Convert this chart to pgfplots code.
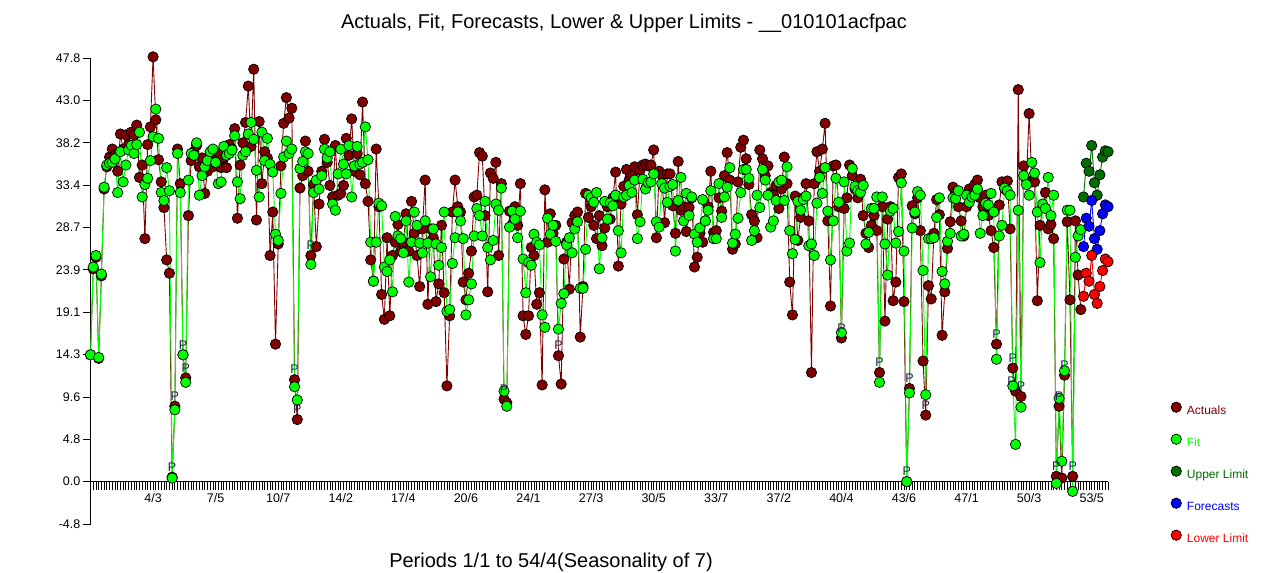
\documentclass[border=0pt]{standalone}
\usepackage{pgfplots}
\pgfplotsset{compat=1.18}
\usepackage{pgfplotstable}
\usepackage{fontspec}
\setmainfont{Liberation Sans}
\definecolor{actc}{RGB}{128,0,0}
\definecolor{fitc}{RGB}{0,255,0}
\definecolor{upc}{RGB}{0,110,0}
\definecolor{fcc}{RGB}{0,0,255}
\definecolor{loc}{RGB}{255,0,0}
\definecolor{pc}{RGB}{30,30,90}

\pgfplotstableread{
idx A F
1 14.3 14.3
2 24.0 24.2
3 25.3 25.5
4 13.9 14.0
5 23.2 23.4
6 33.0 33.2
7 35.5 35.7
8 36.6 35.9
9 37.5 36.0
10 36.8 36.4
11 35.0 32.6
12 39.2 37.2
13 37.5 33.8
14 39.1 35.7
15 38.0 37.4
16 39.4 37.9
17 39.1 37.0
18 40.2 38.0
19 34.3 39.4
20 35.7 32.1
21 27.4 33.5
22 38.0 34.2
23 40.0 36.2
24 47.9 38.9
25 40.8 42.0
26 36.3 38.7
27 33.8 32.6
28 30.9 31.7
29 25.0 35.4
30 23.5 32.8
31 0.5 0.4
32 8.5 8.1
33 37.5 37.0
34 33.6 32.6
35 14.3 14.3
36 11.7 11.2
37 30.0 34.0
38 36.2 37.0
39 37.2 36.8
40 37.9 38.2
41 35.5 32.3
42 36.5 34.5
43 32.5 35.5
44 35.0 36.2
45 36.0 37.2
46 35.5 37.5
47 36.5 36.0
48 37.0 33.6
49 35.4 33.8
50 36.5 37.8
51 35.4 36.8
52 38.0 37.0
53 37.5 37.4
54 39.8 39.0
55 29.7 33.8
56 35.7 31.9
57 38.2 36.8
58 40.5 37.2
59 44.6 39.2
60 37.8 40.5
61 46.5 38.6
62 29.5 35.1
63 40.6 32.1
64 33.6 39.4
65 37.2 36.2
66 36.5 38.7
67 25.5 35.8
68 30.4 34.9
69 15.5 27.9
70 26.8 27.2
71 35.6 32.5
72 40.4 36.6
73 43.3 38.4
74 41.0 37.0
75 42.1 37.5
76 11.5 10.7
77 7.0 9.2
78 33.1 35.3
79 34.5 36.1
80 38.4 37.2
81 35.0 37.0
82 25.5 24.5
83 33.5 32.6
84 26.5 34.0
85 31.3 33.0
86 35.0 34.5
87 38.6 37.5
88 36.0 36.5
89 33.4 37.2
90 32.1 31.3
91 37.9 30.6
92 32.3 34.7
93 32.5 37.5
94 33.4 35.8
95 38.7 34.7
96 36.8 37.9
97 40.9 32.1
98 35.0 35.6
99 37.0 37.8
100 34.6 35.8
101 42.8 36.0
102 33.6 40.0
103 31.6 36.3
104 25.0 27.0
105 22.6 22.6
106 37.5 27.0
107 31.0 31.4
108 21.1 31.1
109 18.3 24.2
110 27.5 23.7
111 18.7 25.0
112 25.5 21.4
113 27.0 29.9
114 29.0 27.7
115 26.0 27.4
116 27.0 25.8
117 30.2 29.4
118 26.0 22.5
119 31.6 27.0
120 28.0 30.4
121 25.5 28.9
122 22.0 26.9
123 28.5 25.8
124 34.0 29.4
125 20.0 26.9
126 28.5 23.1
127 27.5 28.5
128 20.3 26.8
129 22.3 24.4
130 28.9 26.4
131 21.3 30.4
132 10.8 19.2
133 18.7 19.4
134 30.4 24.6
135 34.0 27.5
136 31.0 30.4
137 30.4 29.4
138 22.5 27.4
139 20.5 18.8
140 23.5 20.5
141 26.0 22.3
142 32.1 27.7
143 32.3 30.8
144 37.1 30.0
145 36.7 27.7
146 30.0 31.6
147 21.4 26.4
148 34.8 25.0
149 34.2 27.2
150 36.0 31.3
151 25.5 30.6
152 33.6 33.1
153 9.3 10.2
154 8.9 8.5
155 30.5 28.7
156 29.0 30.5
157 31.0 29.6
158 28.9 27.5
159 33.6 30.5
160 18.7 25.1
161 16.6 21.3
162 18.7 24.7
163 26.4 24.4
164 25.5 27.9
165 20.0 27.0
166 21.3 26.7
167 10.9 18.8
168 32.9 17.4
169 27.0 29.7
170 30.2 27.9
171 28.0 28.9
172 28.9 27.1
173 14.2 17.2
174 11.0 20.1
175 25.1 21.2
176 27.0 26.7
177 21.7 27.5
178 29.2 25.8
179 30.0 28.5
180 30.4 29.3
181 16.3 21.8
182 22.0 21.8
183 32.5 26.2
184 29.8 32.3
185 31.0 32.0
186 28.9 31.5
187 27.4 32.6
188 30.0 24.0
189 26.6 27.5
190 28.6 31.6
191 31.0 29.6
192 29.6 31.4
193 32.0 31.1
194 34.9 32.3
195 24.3 28.3
196 31.3 25.8
197 33.3 32.1
198 35.2 32.3
199 34.0 33.4
200 34.5 32.6
201 35.5 34.0
202 30.1 27.4
203 35.1 29.3
204 35.7 34.1
205 35.8 33.0
206 35.6 33.7
207 35.7 33.8
208 37.4 34.7
209 27.5 29.3
210 35.0 28.7
211 34.6 33.6
212 29.2 33.1
213 34.7 31.5
214 34.7 33.3
215 31.1 33.5
216 28.0 26.0
217 36.1 31.7
218 30.6 34.3
219 31.0 29.4
220 28.2 32.5
221 30.9 30.0
222 32.0 32.1
223 24.2 27.9
224 25.3 27.0
225 28.0 28.6
226 27.0 31.8
227 29.4 29.4
228 31.0 30.6
229 35.0 32.8
230 28.1 27.4
231 28.3 27.4
232 32.0 33.6
233 30.5 29.8
234 34.5 32.1
235 37.1 33.2
236 34.0 35.4
237 26.2 26.9
238 26.8 27.9
239 33.8 29.7
240 37.7 32.6
241 38.5 35.2
242 36.4 35.2
243 33.5 34.2
244 30.1 27.2
245 29.4 28.3
246 27.5 32.3
247 37.4 30.9
248 36.4 35.2
249 34.5 34.0
250 35.6 32.3
251 32.6 28.7
252 32.3 29.4
253 33.4 31.7
254 30.8 33.8
255 33.0 34.0
256 36.6 31.7
257 33.6 35.5
258 22.5 28.3
259 18.8 25.7
260 32.2 27.3
261 27.2 31.6
262 29.8 30.6
263 32.0 31.8
264 33.6 32.2
265 29.4 26.6
266 12.3 26.8
267 33.6 25.5
268 37.2 31.4
269 35.0 34.3
270 37.5 32.5
271 40.4 35.4
272 29.4 30.5
273 19.8 25.0
274 35.6 29.4
275 35.7 34.2
276 31.0 31.5
277 16.2 16.8
278 30.8 33.8
279 32.0 26.0
280 35.7 26.9
281 34.5 35.3
282 33.0 33.3
283 32.0 32.8
284 34.1 32.6
285 30.0 33.4
286 28.0 26.8
287 26.4 28.1
288 28.9 30.8
289 30.0 30.8
290 28.3 32.1
291 12.3 11.2
292 31.0 32.1
293 18.1 26.8
294 29.6 23.3
295 31.0 30.5
296 20.4 30.8
297 22.5 26.9
298 34.3 28.2
299 34.7 33.7
300 20.3 26.0
301 0.0 0.0
302 10.5 10.0
303 31.1 28.6
304 30.2 30.4
305 32.0 32.7
306 28.3 32.3
307 13.6 23.8
308 7.5 9.8
309 22.1 27.4
310 20.6 27.4
311 28.0 27.5
312 31.8 29.8
313 30.1 32.0
314 16.5 23.7
315 21.4 22.3
316 26.3 27.1
317 29.3 28.0
318 33.2 32.0
319 32.6 31.9
320 31.0 32.8
321 29.4 27.7
322 27.7 27.9
323 31.0 32.3
324 33.0 31.5
325 32.5 32.1
326 33.5 32.3
327 34.0 33.0
328 32.0 28.0
329 31.0 30.0
330 32.3 31.4
331 30.0 31.2
332 28.3 32.5
333 26.4 30.4
334 15.5 13.8
335 31.2 27.7
336 33.8 28.9
337 33.0 33.1
338 33.9 32.8
339 28.5 32.3
340 12.8 10.8
341 10.2 4.2
342 44.2 30.6
343 9.6 8.4
344 35.6 34.5
345 34.0 33.5
346 41.5 32.3
347 33.8 36.0
348 33.8 34.8
349 20.4 30.4
350 28.9 24.7
351 31.0 31.3
352 32.6 30.8
353 28.5 34.3
354 29.0 30.0
355 27.4 32.3
356 0.6 -0.2
357 8.5 9.4
358 0.4 2.3
359 12.0 12.5
360 29.3 30.6
361 20.5 30.6
362 0.6 -1.1
363 29.4 25.3
364 23.3 27.7
365 19.4 28.4
}\maindata

\pgfplotstableread{
idx U Fc L
366 32.1 26.5 20.9
367 35.9 29.7 23.5
368 35.0 28.8 22.6
369 37.9 31.7 25.5
370 33.7 27.4 21.1
371 32.3 26.2 20.1
372 34.6 28.3 22.0
373 36.6 30.2 23.8
374 37.3 31.2 25.1
375 37.2 31.0 24.8
}\fcdata

\pgfplotstableread{
idx y
31 0.5
32 8.5
35 14.3
36 11.7
76 11.5
77 7.0
82 25.5
153 9.3
173 14.2
277 16.2
291 12.3
301 0.0
302 10.5
308 7.5
334 15.5
340 12.8
343 9.6
356 0.6
357 8.5
359 12.0
362 0.6
}\pdata

\pgfplotstableread{
idx y
341 10.2
}\pdataleft

\begin{document}
\begin{tikzpicture}[x=1bp,y=1bp]
\path[use as bounding box] (0,0) rectangle (1282,573);
\begin{axis}[
  at={(90.5bp,49bp)}, anchor=south west,
  scale only axis, width=1017.5bp, height=466bp,
  xmin=1, xmax=375, ymin=-4.777, ymax=47.77,
  axis x line*=middle, axis y line*=left,
  hide obscured x ticks=false, hide obscured y ticks=false,
  clip=false,
  axis line style={black, line width=0.8bp},
  ytick={-4.777,0,4.777,9.554,14.331,19.108,23.885,28.662,33.439,38.216,42.993,47.77},
  yticklabels={-4.8,0.0,4.8,9.6,14.3,19.1,23.9,28.7,33.4,38.2,43.0,47.8},
  xtick={24,47,...,369},
  xticklabels={4/3,7/5,10/7,14/2,17/4,20/6,24/1,27/3,30/5,33/7,37/2,40/4,43/6,47/1,50/3,53/5},
  minor xtick={1,2,...,375},
  tick align=outside,
  major tick length=8bp, minor tick length=8bp,
  every tick/.style={black, line width=0.8bp},
  minor tick style={black, line width=0.8bp},
  tick label style={font=\fontsize{12.5bp}{14bp}\selectfont, black},
  yticklabel style={inner sep=2bp},
  xticklabel style={inner sep=2bp, yshift=-2bp},
  /pgf/number format/assume math mode=true,
  title={Actuals, Fit, Forecasts, Lower \& Upper Limits - \_\_010101acfpac},
  title style={at={(0.5243,1.0515)}, anchor=base, font=\fontsize{20bp}{23bp}\selectfont},
  xlabel={Periods 1/1 to 54/4(Seasonality of 7)},
  xlabel style={at={(0.4526,-0.0944)}, anchor=base, font=\fontsize{20bp}{23bp}\selectfont},
  legend style={at={(1.0617,0.2622)}, anchor=north west, draw=none, fill=none,
    inner sep=0pt, row sep=16.8bp, column sep=5.5bp,
    font=\fontsize{12bp}{14bp}\selectfont,
    nodes={inner sep=0pt, text height=9bp, text depth=3bp}},
  legend cell align=left,
  legend image code/.code={\draw[#1] plot coordinates {(5.2bp,4bp)};},
]
\addplot[forget plot, color=actc, line width=0.9bp, mark=*, mark size=5.2bp,
  mark options={draw=black, fill=actc, line width=0.7bp}] table[x=idx,y=A]{\maindata};
\addplot[forget plot, color=fitc, line width=0.9bp, mark=*, mark size=5.2bp,
  mark options={draw=black, fill=fitc, line width=0.7bp}] table[x=idx,y=F]{\maindata};
\addplot[forget plot, color=upc, line width=0.9bp, mark=*, mark size=5.2bp,
  mark options={draw=black, fill=upc, line width=0.7bp}] table[x=idx,y=U]{\fcdata};
\addplot[forget plot, color=fcc, line width=0.9bp, mark=*, mark size=5.2bp,
  mark options={draw=black, fill=fcc, line width=0.7bp}] table[x=idx,y=Fc]{\fcdata};
\addplot[forget plot, color=loc, line width=0.9bp, mark=*, mark size=5.2bp,
  mark options={draw=black, fill=loc, line width=0.7bp}] table[x=idx,y=L]{\fcdata};
\addplot[forget plot, only marks, mark=none, nodes near coords={P},
  every node near coord/.append style={font=\fontsize{12.5bp}{14bp}\selectfont, text=pc, anchor=south, inner sep=0pt, yshift=5.5bp}]
  table[x=idx,y=y]{\pdata};
\addplot[forget plot, only marks, mark=none, nodes near coords={P},
  every node near coord/.append style={font=\fontsize{12.5bp}{14bp}\selectfont, text=pc, anchor=south, inner sep=0pt, yshift=5.5bp, xshift=-4bp}]
  table[x=idx,y=y]{\pdataleft};

\addlegendimage{only marks, mark=*, mark size=5.2bp, mark options={draw=black, fill=actc, line width=0.7bp}}
\addlegendentry{\textcolor{actc}{Actuals}}
\addlegendimage{only marks, mark=*, mark size=5.2bp, mark options={draw=black, fill=fitc, line width=0.7bp}}
\addlegendentry{\textcolor{fitc}{Fit}}
\addlegendimage{only marks, mark=*, mark size=5.2bp, mark options={draw=black, fill=upc, line width=0.7bp}}
\addlegendentry{\textcolor{upc}{Upper Limit}}
\addlegendimage{only marks, mark=*, mark size=5.2bp, mark options={draw=black, fill=fcc, line width=0.7bp}}
\addlegendentry{\textcolor{fcc}{Forecasts}}
\addlegendimage{only marks, mark=*, mark size=5.2bp, mark options={draw=black, fill=loc, line width=0.7bp}}
\addlegendentry{\textcolor{loc}{Lower Limit}}
\end{axis}
\end{tikzpicture}
\end{document}
